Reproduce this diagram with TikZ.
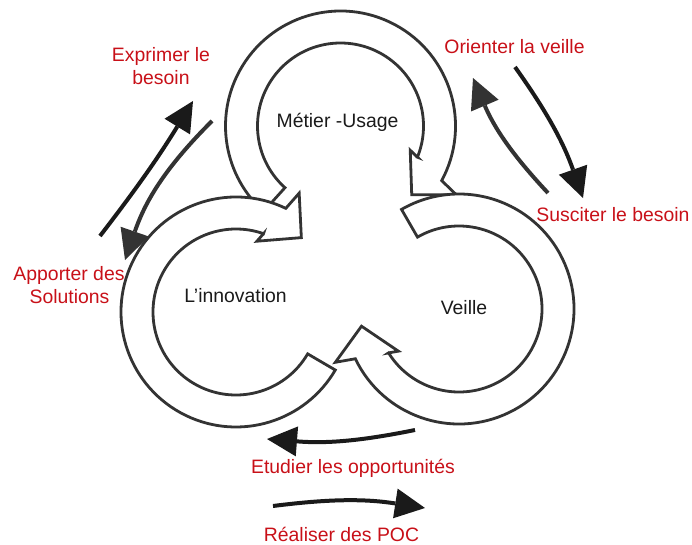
\documentclass[tikz,border=0pt]{standalone}
\usepackage{fontspec}
\setmainfont{Liberation Sans}
\usetikzlibrary{arrows.meta}
\definecolor{rouge}{RGB}{200,16,24}
\definecolor{trait}{RGB}{51,51,51}
\definecolor{noir}{RGB}{26,26,26}
\definecolor{gris}{RGB}{51,51,51}

% Hollow circular arrow, turning clockwise.
% #1,#2: centre; #3: angle of the tip; #4: angle of the tail, counted back from the tip
\newcommand{\cyclearrow}[4]{%
  \begin{scope}[shift={(#1,#2)}, rotate=#3]
    \filldraw[cyc] (77,31) -- (67,31) -- (99,0) -- (131,31) -- (110.74,31)
      arc[start angle=15.64, end angle=#4, radius=115]
      -- (#4:83)
      arc[start angle=#4, end angle=21.93, radius=83] -- cycle;
  \end{scope}}

\begin{document}
\begin{tikzpicture}[x=1pt, y=1pt,
  cyc/.style={draw=trait, fill=white, line width=2.8pt, line join=miter},
  lbl/.style={anchor=base, inner sep=0pt, font=\fontsize{19.4}{23}\selectfont},
  rlbl/.style={lbl, text=rouge},
  blbl/.style={lbl, text=noir},
  flow/.style={line width=4pt, draw=#1,
    -{Triangle[length=30pt, width=30pt, line width=0pt, fill=#1]}},
]
\useasboundingbox (0,0) rectangle (692,-545);

% the three cycles
\cyclearrow{340.5}{-126}{-44}{272}
\cyclearrow{236}{-312}{48.7}{281}
\cyclearrow{459}{-309}{190}{290}

% cycle titles
\node[blbl] (metier) at (337.5,-128) {Métier -Usage};
\node[blbl] (innov) at (235.5,-302) {L’innovation};
\node[blbl] (veille) at (464,-314) {Veille};

% exchange labels
\node[rlbl] (exp1) at (161,-62) {Exprimer le};
\node[rlbl] (exp2) at (161,-85) {besoin};
\node[rlbl] (app1) at (69,-280) {Apporter des};
\node[rlbl] (app2) at (69.5,-303) {Solutions};
\node[rlbl] (ori) at (514.5,-54) {Orienter la veille};
\node[rlbl] (sus) at (613,-222) {Susciter le besoin};
\node[rlbl] (etu) at (353,-473) {Etudier les opportunités};
\node[rlbl] (rea) at (341.5,-541) {Réaliser des POC};

% arrow end points
\coordinate (e1s) at (100,-236);  \coordinate (e1t) at (193,-101);
\coordinate (e2s) at (212,-121);  \coordinate (e2t) at (125,-260);
\coordinate (e3s) at (548,-193);  \coordinate (e3t) at (473,-78);
\coordinate (e4s) at (515,-67);   \coordinate (e4t) at (583,-198);
\coordinate (e5s) at (415,-430);  \coordinate (e5t) at (267,-439);
\coordinate (e6s) at (273,-506);  \coordinate (e6t) at (425,-508);

% exchange arrows
\draw[flow=noir] (e1s) to[bend right=3] (e1t);
\draw[flow=gris] (e2s) to[bend right=13] (e2t);
\draw[flow=gris] (e3s) to[bend left=10] (e3t);
\draw[flow=noir] (e4s) to[bend left=8] (e4t);
\draw[flow=noir] (e5s) to[bend left=8] (e5t);
\draw[flow=noir] (e6s) to[bend left=8] (e6t);
\end{tikzpicture}
\end{document}
